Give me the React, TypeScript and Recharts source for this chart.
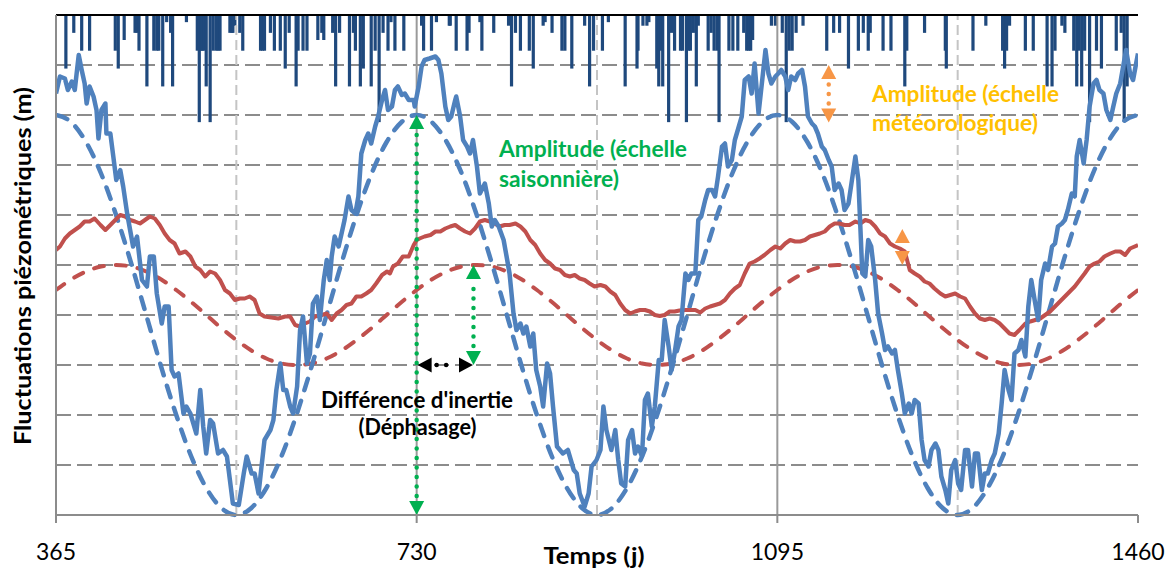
import React from 'react';
import { ComposedChart, Line, Bar, XAxis, YAxis, CartesianGrid, ReferenceLine } from 'recharts';

const xTicks = [365, 730, 1095, 1460];
const levelTicks = [0, 1, 2, 3, 4, 5, 6, 7, 8, 9, 10];
const seasonLines = [547.5, 912.5, 1277.5];
const yearLines = [730, 1095];

// [day, level (m)]
const blueObserved: [number, number][] = [
  [365,8.43],[369,8.77],[374,8.73],[377,8.5],[381,8.67],[384,8.5],[388,9.2],[391,8.9],[394,8.63],[396,8.23],
  [399,8.57],[403,8.37],[406,8.1],[408,7.53],[411,8.1],[415,8.23],[416,7.63],[420,7.63],[423,7.17],[426,6.7],
  [430,6.9],[433,6.57],[437,6.03],[440,5.7],[443,5.37],[447,5.57],[452,4.7],[457,4.57],[460,5.17],[464,5.17],
  [467,4.43],[472,3.83],[475,4.17],[479,4.17],[482,2.9],[485,2.77],[489,2.83],[494,2.03],[497,2.17],[501,2.03],
  [504,1.83],[507,1.63],[511,2.5],[514,1.77],[517,1.23],[521,1.9],[524,1.83],[529,1.23],[534,1.3],[538,1.17],
  [541,0.7],[544,0.23],[550,0.2],[555,0.83],[558,1.17],[563,0.83],[566,0.83],[570,0.43],[573,0.97],[576,1.5],
  [582,1.7],[585,1.9],[588,2.5],[592,3.03],[595,2.5],[598,2.5],[602,2.17],[605,2.03],[609,2.57],[612,3.7],
  [615,3.97],[619,3.03],[622,3.23],[625,4.23],[629,4.37],[632,3.9],[636,4.7],[639,5.1],[642,4.7],[644,5.17],
  [647,5.57],[651,5.37],[654,5.63],[657,5.9],[661,6.37],[664,6.1],[668,6.03],[671,6.37],[674,7.23],[678,7.5],
  [681,7.63],[684,7.43],[688,7.77],[691,7.97],[695,8.3],[698,8.5],[701,8.1],[705,8.17],[708,8.5],[711,8.57],
  [715,8.4],[718,8.43],[722,8.3],[727,8.3],
  [728,8.17],[732,8.57],[735,8.97],[738,9.1],[743,9.13],[749,9.17],[752,9.1],[755,8.83],[759,8.17],[762,7.9],
  [765,7.97],[769,8.3],[770,8.37],[774,7.97],[777,7.5],[781,7.37],[784,7.23],[787,7.5],[791,6.97],[794,6.43],
  [799,6.63],[803,6.23],[806,5.77],[809,5.9],[813,5.77],[818,5.5],[821,5.17],[824,4.83],[828,4.03],[831,3.7],
  [835,3.83],[838,3.63],[841,3.77],[845,3.37],[848,3.63],[851,2.9],[855,2.57],[858,2.17],[862,3.03],[865,2.83],
  [868,2.17],[872,1.37],[875,1.3],[878,1.23],[883,1.3],[889,0.9],[892,0.83],[895,0.43],[900,0.17],[904,0.43],
  [907,0.97],[912,1.1],[916,1.3],[919,2.17],[922,1.7],[927,1.3],[931,1.7],[934,1.1],[937,0.63],[941,0.57],
  [944,1.5],[948,1.7],[951,1.23],[954,1.37],[958,1.17],[961,2.3],[964,2.43],[968,1.77],[971,2.17],[975,3.1],
  [978,3.1],[981,3.9],[985,3.37],[988,2.9],[991,3.23],[995,3.77],[998,3.9],[1002,4.83],[1005,4.7],[1008,4.83],
  [1012,4.83],[1015,5.9],[1018,5.97],[1022,6.3],[1025,6.5],[1029,6.5],[1032,6.37],[1035,6.77],[1039,7.37],[1042,7.43],
  [1045,6.97],[1049,7.1],[1052,7.5],[1055,7.7],[1059,7.97],[1062,8.7],[1066,8.77],[1069,8.43],[1072,9.03],[1076,8.03],
  [1079,8.57],[1083,9.3],[1086,8.83],[1089,8.63],
  [1093,8.77],[1096,8.83],[1099,8.9],[1103,8.77],[1106,8.5],[1109,8.77],[1113,8.7],[1116,8.83],[1120,8.9],[1123,8.57],
  [1126,7.97],[1130,7.83],[1133,7.77],[1136,7.63],[1140,7.37],[1143,7.3],[1147,7.1],[1150,6.97],[1153,6.5],[1157,6.63],
  [1160,6.5],[1163,6.1],[1167,6.23],[1170,6.63],[1174,7.17],[1177,6.7],[1179,5.77],[1181,4.83],[1184,4.77],[1187,5.5],
  [1190,5.37],[1194,4.7],[1197,4.03],[1201,3.63],[1204,3.3],[1207,3.37],[1211,3.23],[1214,3.3],[1217,2.9],[1221,2.43],
  [1224,2.03],[1228,2.23],[1231,2.03],[1234,2.3],[1238,2.23],[1241,1.5],[1244,1.1],[1248,0.97],[1251,1.3],[1255,1.43],
  [1258,1.3],[1261,0.77],[1265,0.5],[1268,0.23],[1271,0.9],[1275,1.1],[1278,0.63],[1281,0.5],[1285,1.3],[1288,1.3],
  [1292,0.57],[1295,1.23],[1298,1.23],[1302,0.5],[1305,0.83],[1308,0.83],[1312,1.1],[1315,1.23],[1319,1.63],[1322,2.23],
  [1325,2.9],[1329,2.5],[1332,2.3],[1335,3.23],[1339,3.3],[1342,3.5],[1346,3.17],[1349,4.17],[1352,4.7],[1356,4.23],
  [1359,3.9],[1362,4.7],[1366,5.03],[1369,4.9],[1373,5.37],[1376,5.43],[1379,5.77],[1383,5.83],[1386,5.9],[1389,6.1],
  [1393,6.43],[1396,6.37],[1398,7.17],[1401,7.5],[1405,7.03],[1408,7.5],[1411,8.17],[1415,8.63],[1418,8.7],[1421,8.5],
  [1425,8.43],[1428,8.1],[1432,7.9],[1435,8.17],[1438,8.43],[1442,8.63],[1445,8.97],[1448,9.3],[1452,8.83],[1455,8.7],
  [1460,9.23],
];

const redObserved: [number, number][] = [
  [365,5.3],[369,5.37],[374,5.53],[379,5.63],[384,5.7],[389,5.77],[394,5.87],[399,5.87],[404,5.93],[410,5.8],
  [415,5.7],[420,5.8],[425,5.9],[430,6.0],[435,5.97],[440,5.9],[445,5.87],[450,5.83],[455,5.9],[460,5.97],
  [465,5.93],[470,5.8],[475,5.63],[480,5.5],[485,5.43],[490,5.23],[496,5.27],[501,5.17],[506,4.97],[511,4.9],
  [516,4.77],[521,4.87],[526,4.83],[531,4.7],[536,4.5],[541,4.43],[546,4.3],[551,4.33],[556,4.33],[561,4.37],
  [566,4.3],[571,4.03],[576,3.97],[583,3.95],[590,3.93],[597,3.97],[602,3.97],[607,3.8],[612,3.77],[617,3.83],
  [622,3.87],[627,3.97],[634,4.0],[639,4.03],[644,3.9],[649,4.03],[654,4.1],[659,4.2],[664,4.23],[669,4.37],
  [674,4.37],[679,4.43],[684,4.5],[689,4.63],[695,4.8],[700,4.87],[703,4.83],[706,4.97],[711,5.03],[716,5.17],
  [722,5.17],[727,5.4],
  [730,5.5],[733,5.53],[738,5.57],[744,5.6],[749,5.67],[754,5.67],[759,5.73],[764,5.77],[769,5.8],[774,5.73],
  [779,5.67],[784,5.63],[789,5.73],[794,5.87],[799,5.9],[804,5.87],[809,5.83],[814,5.77],[819,5.8],[824,5.8],
  [830,5.83],[835,5.77],[840,5.67],[845,5.5],[850,5.4],[855,5.23],[860,5.1],[865,5.03],[870,4.93],[875,4.9],
  [880,4.8],[885,4.77],[890,4.8],[895,4.73],[900,4.7],[905,4.63],[910,4.57],[916,4.6],[921,4.57],[926,4.47],
  [931,4.4],[936,4.23],[941,4.1],[946,4.03],[951,4.07],[956,4.1],[961,4.1],[966,4.07],[971,4.0],[976,3.98],
  [981,4.0],[986,4.07],[991,4.07],[996,4.09],[1002,4.1],[1007,4.1],[1012,4.1],[1017,4.05],[1022,4.13],[1027,4.17],
  [1032,4.2],[1037,4.23],[1042,4.3],[1047,4.43],[1052,4.53],[1057,4.6],[1062,4.83],[1067,5.03],[1072,5.07],[1077,5.13],
  [1082,5.2],[1088,5.3],
  [1093,5.37],[1098,5.33],[1103,5.43],[1108,5.5],[1113,5.47],[1118,5.47],[1123,5.5],[1128,5.57],[1133,5.6],[1138,5.63],
  [1143,5.67],[1148,5.77],[1153,5.83],[1158,5.83],[1163,5.8],[1168,5.8],[1174,5.87],[1179,5.83],[1184,5.9],[1189,5.87],
  [1194,5.77],[1199,5.63],[1204,5.57],[1209,5.43],[1214,5.37],[1219,5.33],[1224,5.27],[1229,4.9],[1234,4.83],[1239,4.77],
  [1244,4.67],[1249,4.63],[1254,4.53],[1260,4.43],[1265,4.37],[1270,4.4],[1275,4.43],[1280,4.37],[1285,4.33],[1290,4.17],
  [1295,4.03],[1300,3.93],[1305,3.9],[1310,3.93],[1315,3.9],[1320,3.83],[1325,3.73],[1330,3.63],[1335,3.6],[1340,3.7],
  [1346,3.83],[1351,3.87],[1356,3.9],[1361,3.93],[1366,4.0],[1371,4.07],[1376,4.17],[1381,4.27],[1386,4.37],[1391,4.47],
  [1396,4.57],[1401,4.7],[1406,4.83],[1411,4.97],[1416,5.03],[1421,5.07],[1426,5.17],[1432,5.23],[1437,5.27],[1442,5.27],
  [1447,5.2],[1452,5.33],[1460,5.4],
];

// seasonal trend curves (dashed), sampled along the time axis
const trendDays = [
  365,380.2,395.4,410.6,425.8,441,456.3,471.5,486.7,501.9,517.1,532.3,547.5,562.7,577.9,593.1,608.3,623.5,638.8,654,669.2,684.4,699.6,714.8,
  730,745.2,760.4,775.6,790.8,806,821.3,836.5,851.7,866.9,882.1,897.3,912.5,927.7,942.9,958.1,973.3,988.5,1003.8,1019,1034.2,1049.4,1064.6,1079.8,
  1095,1110.2,1125.4,1140.6,1155.8,1171,1186.3,1201.5,1216.7,1231.9,1247.1,1262.3,1277.5,1292.7,1307.9,1323.1,1338.3,1353.5,1368.8,1384,1399.2,1414.4,1429.6,1444.8,
  1460,
];
const blueTrend = [
  8,7.86,7.46,6.83,6,5.04,4,2.96,2,1.17,0.54,0.14,0,0.14,0.54,1.17,2,2.96,4,5.04,6,6.83,7.46,7.86,
  8,7.86,7.46,6.83,6,5.04,4,2.96,2,1.17,0.54,0.14,0,0.14,0.54,1.17,2,2.96,4,5.04,6,6.83,7.46,7.86,
  8,7.86,7.46,6.83,6,5.04,4,2.96,2,1.17,0.54,0.14,0,0.14,0.54,1.17,2,2.96,4,5.04,6,6.83,7.46,7.86,
  8,
];
const redTrend = [
  4.5,4.71,4.87,4.97,5,4.97,4.87,4.71,4.5,4.26,4,3.74,3.5,3.29,3.13,3.03,3,3.03,3.13,3.29,3.5,3.74,4,4.26,
  4.5,4.71,4.87,4.97,5,4.97,4.87,4.71,4.5,4.26,4,3.74,3.5,3.29,3.13,3.03,3,3.03,3.13,3.29,3.5,3.74,4,4.26,
  4.5,4.71,4.87,4.97,5,4.97,4.87,4.71,4.5,4.26,4,3.74,3.5,3.29,3.13,3.03,3,3.03,3.13,3.29,3.5,3.74,4,4.26,
  4.5,
];

// [day, rainfall (mm)] hanging from the top axis
const rainfall: [number, number][] = [
  [375,15],[383,5],[391,10],[399,10],[425,10],[428,15],[434,7],[445,5],[447,5],[449,10],[457,20],[464,10],[467,10],
  [469,10],[473,20],[477,2],[481,5],[483,20],[497,2],[508,10],[510,30],[512,10],[513,10],[515,10],[517,20],[521,30],
  [524,10],[527,10],[529,10],[531,10],[541,5],[543,5],[544,5],[546,3],[551,5],[554,10],[572,10],[574,10],[576,10],
  [582,5],[586,10],[592,10],[597,15],[601,5],[608,20],[610,10],[615,10],[619,10],[630,7],[634,5],[636,7],[645,5],[648,20],
  [652,5],[662,20],[666,5],[668,10],[673,20],[676,15],[684,20],[688,10],[692,30],[696,5],[701,10],[704,2],[708,10],
  [717,10],[735,3],[737,10],[745,10],[750,2],[763,3],[764,3],[770,10],[781,10],[783,5],[794,2],[796,10],[808,5],
  [823,3],[826,20],[830,5],[835,10],[844,10],[848,15],[858,3],[860,2],[867,5],[877,10],[880,10],[887,15],[900,3],
  [905,20],[909,10],[918,10],[924,2],[941,20],[953,15],[954,10],[959,3],[963,3],[965,2],[973,15],[975,20],[977,10],
  [979,20],[985,30],[988,5],[991,10],[997,10],[999,10],[1003,30],[1005,10],[1007,10],[1010,5],[1013,20],[1015,3],
  [1025,10],[1028,5],[1031,10],[1034,10],[1036,30],[1046,10],[1050,10],[1055,10],[1061,5],[1064,10],[1066,10],
  [1068,10],[1070,7],[1089,3],[1093,3],[1100,5],[1104,30],[1107,10],[1110,10],[1114,5],[1121,3],[1145,10],[1152,5],
  [1158,5],[1167,15],[1177,10],[1182,5],[1187,10],[1189,5],[1202,10],[1210,10],[1224,20],[1226,10],[1244,5],[1265,10],
  [1266,15],[1293,10],[1306,3],[1323,10],[1325,15],[1327,10],[1330,3],[1346,10],[1354,10],[1368,20],[1373,20],
  [1376,10],[1383,3],[1386,5],[1395,10],[1398,20],[1400,10],[1403,20],[1406,10],[1411,30],[1418,10],[1423,15],
  [1438,10],[1443,5],[1446,30],[1449,20],
];

// annotation arrows [day, level] -> [day, level]
const arrows: { from: [number, number]; to: [number, number]; color: string }[] = [
  { from: [730, 0], to: [730, 8], color: '#00B050' },
  { from: [787.5, 3], to: [787.5, 5], color: '#00B050' },
  { from: [731, 3], to: [787, 3], color: '#000000' },
  { from: [1147, 7.85], to: [1147, 9.0], color: '#F79646' },
  { from: [1221.5, 5.0], to: [1221.5, 5.72], color: '#F79646' },
];

const table = (() => {
  const m = new Map<number, any>();
  const put = (d: number, k: string, v: number) => {
    const r = m.get(d) ?? { day: d };
    r[k] = v;
    m.set(d, r);
  };
  blueObserved.forEach(([d, v]) => put(d, 'blueObs', v));
  redObserved.forEach(([d, v]) => put(d, 'redObs', v));
  trendDays.forEach((d, i) => {
    put(d, 'blueTrend', blueTrend[i]);
    put(d, 'redTrend', redTrend[i]);
  });
  rainfall.forEach(([d, v]) => put(d, 'rain', v));
  return Array.from(m.values()).sort((a, b) => a.day - b.day);
})();

const RainStick = (props: any) => {
  const { x, y, width, height } = props;
  if (![x, y, width, height].every((n) => Number.isFinite(n))) return null;
  const top = Math.min(y, y + height);
  const h = Math.abs(height);
  return <rect x={x + width / 2 - 1.6} y={top} width={3.2} height={h} fill="#1F497D" />;
};

const EmptyTick = () => <g />;

const ArrowShape = (props: any) => {
  const { x1, y1, x2, y2, stroke } = props;
  const a = [x1, y1, x2, y2].map(Number);
  if (!a.every((n) => Number.isFinite(n))) return null;
  const [ax, ay, bx, by] = a;
  const dx = bx - ax;
  const dy = by - ay;
  const len = Math.hypot(dx, dy) || 1;
  const ux = dx / len;
  const uy = dy / len;
  const nx = -uy;
  const ny = ux;
  const H = 14;
  const W = 7.5;
  const tri = (tx: number, ty: number, dirx: number, diry: number) => {
    const bx0 = tx - dirx * H;
    const by0 = ty - diry * H;
    return `${tx},${ty} ${bx0 + nx * W},${by0 + ny * W} ${bx0 - nx * W},${by0 - ny * W}`;
  };
  const sx = ax + ux * (H + 5);
  const sy = ay + uy * (H + 5);
  const ex = bx - ux * (H + 5);
  const ey = by - uy * (H + 5);
  const inner = (ex - sx) * ux + (ey - sy) * uy;
  return (
    <g>
      {inner > 0 && (
        <line x1={sx} y1={sy} x2={ex} y2={ey} stroke={stroke} strokeWidth={4.5} strokeLinecap="round" strokeDasharray="0 9.5" />
      )}
      <polygon points={tri(ax, ay, -ux, -uy)} fill={stroke} />
      <polygon points={tri(bx, by, ux, uy)} fill={stroke} />
    </g>
  );
};

const FONT = 'Lato, "Open Sans", sans-serif';

export default function App() {
  return (
    <div style={{ position: 'absolute', left: 0, top: 0, width: 1169, height: 571, background: '#fff' }}>
      <ComposedChart
        width={1169}
        height={571}
        data={table}
        margin={{ top: 15, right: 31, bottom: 0, left: 0 }}
        style={{ fontFamily: FONT }}
      >
        <XAxis
          xAxisId="x"
          type="number"
          dataKey="day"
          domain={[365, 1460]}
          ticks={xTicks}
          allowDataOverflow
          height={56}
          axisLine={{ stroke: '#8c8c8c', strokeWidth: 2 }}
          tickLine={{ stroke: '#8c8c8c', strokeWidth: 2 }}
          tickSize={8}
          tickMargin={21}
          tick={{ fontSize: 23, fill: '#000', fontFamily: FONT }}
        />
        <YAxis
          yAxisId="lvl"
          type="number"
          domain={[0, 10]}
          ticks={levelTicks}
          interval={0}
          width={56}
          tick={EmptyTick}
          tickLine={false}
          axisLine={{ stroke: '#8c8c8c', strokeWidth: 2 }}
        />
        <YAxis
          yAxisId="rain"
          orientation="right"
          type="number"
          domain={[0, 140]}
          reversed
          width={0}
          tick={false}
          tickLine={false}
          axisLine={{ stroke: '#8c8c8c', strokeWidth: 2 }}
        />
        <CartesianGrid
          xAxisId="x"
          yAxisId="lvl"
          vertical={false}
          horizontalValues={levelTicks}
          stroke="#8c8c8c"
          strokeWidth={1.8}
          strokeDasharray="15 6"
        />
        {seasonLines.map((d) => (
          <ReferenceLine key={'s' + d} xAxisId="x" yAxisId="lvl" x={d} stroke="#c4c4c4" strokeWidth={2} strokeDasharray="10 5" />
        ))}
        {yearLines.map((d) => (
          <ReferenceLine key={'y' + d} xAxisId="x" yAxisId="lvl" x={d} stroke="#9a9a9a" strokeWidth={2} />
        ))}
        <ReferenceLine xAxisId="x" yAxisId="lvl" y={10} stroke="#000" strokeWidth={2} />
        <Line
          xAxisId="x"
          yAxisId="lvl"
          dataKey="redTrend"
          type="monotone"
          stroke="#C0504D"
          strokeWidth={4}
          strokeDasharray="10 12"
          strokeLinecap="round"
          dot={false}
          activeDot={false}
          connectNulls
          isAnimationActive={false}
        />
        <Line
          xAxisId="x"
          yAxisId="lvl"
          dataKey="blueTrend"
          type="monotone"
          stroke="#4F81BD"
          strokeWidth={4.5}
          strokeDasharray="12 11"
          strokeLinecap="round"
          dot={false}
          activeDot={false}
          connectNulls
          isAnimationActive={false}
        />
        <Line
          xAxisId="x"
          yAxisId="lvl"
          dataKey="redObs"
          type="linear"
          stroke="#C0504D"
          strokeWidth={4}
          strokeLinejoin="round"
          dot={false}
          activeDot={false}
          connectNulls
          isAnimationActive={false}
        />
        <Line
          xAxisId="x"
          yAxisId="lvl"
          dataKey="blueObs"
          type="linear"
          stroke="#4F81BD"
          strokeWidth={4.5}
          strokeLinejoin="round"
          dot={false}
          activeDot={false}
          connectNulls
          isAnimationActive={false}
        />
        <Bar
          xAxisId="x"
          yAxisId="rain"
          dataKey="rain"
          fill="#1F497D"
          shape={RainStick}
          isAnimationActive={false}
        />
        {arrows.map((a, i) => (
          <ReferenceLine
            key={'a' + i}
            xAxisId="x"
            yAxisId="lvl"
            segment={[{ x: a.from[0], y: a.from[1] }, { x: a.to[0], y: a.to[1] }]}
            stroke={a.color}
            ifOverflow="visible"
            shape={ArrowShape}
          />
        ))}
      </ComposedChart>
      <svg
        width={1169}
        height={571}
        style={{ position: 'absolute', left: 0, top: 0, pointerEvents: 'none', overflow: 'visible' }}
      >
        <g fontFamily={FONT} fontWeight="bold" fontSize={23}>
          <text
            transform="translate(31,266) rotate(-90)"
            textAnchor="middle"
            textLength={358}
            lengthAdjust="spacingAndGlyphs"
            fill="#000"
          >
            Fluctuations piézométriques (m)
          </text>
          <text x={594} y={564} textAnchor="middle" textLength={101} lengthAdjust="spacingAndGlyphs" fill="#000">
            Temps (j)
          </text>
          <text x={499} y={157} textLength={188} lengthAdjust="spacingAndGlyphs" fill="#00B050">
            Amplitude (échelle
          </text>
          <text x={499} y={187} textLength={120} lengthAdjust="spacingAndGlyphs" fill="#00B050">
            saisonnière)
          </text>
          <text x={872} y={102} textLength={187} lengthAdjust="spacingAndGlyphs" fill="#FFC000">
            Amplitude (échelle
          </text>
          <text x={872} y={131} textLength={166} lengthAdjust="spacingAndGlyphs" fill="#FFC000">
            météorologique)
          </text>
          <text x={417} y={408} textAnchor="middle" textLength={192} lengthAdjust="spacingAndGlyphs" fill="#000">
            Différence d'inertie
          </text>
          <text x={417.5} y={435} textAnchor="middle" textLength={118} lengthAdjust="spacingAndGlyphs" fill="#000">
            (Déphasage)
          </text>
        </g>
      </svg>
    </div>
  );
}
